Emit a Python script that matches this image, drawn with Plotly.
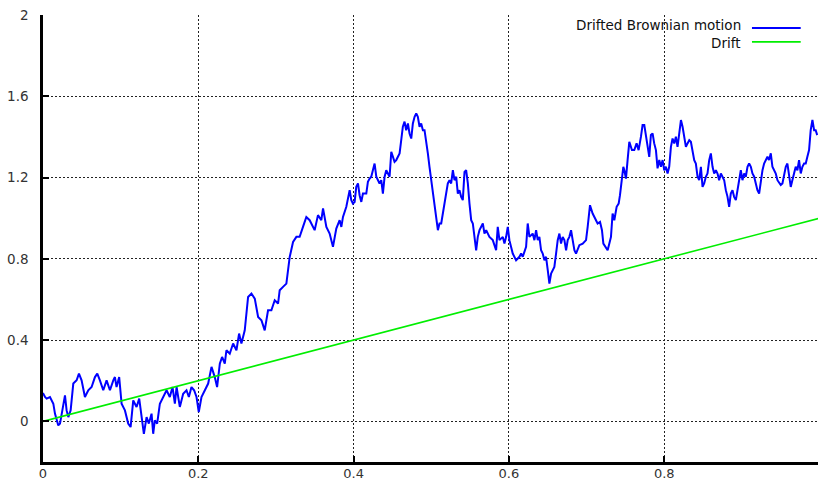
import plotly.graph_objects as go

# Sampled path of a Brownian motion with unit drift on [0, 1]
t_vals = [
    0.0004, 0.0026, 0.0047, 0.009, 0.0133, 0.0154, 0.0197, 0.0219, 0.0262, 0.0283,
    0.0304, 0.0326, 0.0356, 0.039, 0.0433, 0.0463, 0.0497, 0.054, 0.0583, 0.0626,
    0.0669, 0.0699, 0.0733, 0.0776, 0.0819, 0.0862, 0.0905, 0.0926, 0.0947, 0.0981,
    0.1012, 0.1055, 0.1097, 0.1128, 0.1162, 0.1205, 0.1239, 0.1269, 0.1299, 0.1334,
    0.1363, 0.1398, 0.1419, 0.144, 0.147, 0.1505, 0.1548, 0.1591, 0.1633, 0.1668,
    0.1698, 0.172, 0.1762, 0.1805, 0.1848, 0.1878, 0.1912, 0.1946, 0.1977, 0.2006,
    0.2041, 0.2084, 0.2127, 0.217, 0.2212, 0.2242, 0.2277, 0.2306, 0.2341, 0.2362,
    0.2405, 0.2448, 0.2491, 0.2525, 0.2555, 0.2598, 0.2641, 0.2684, 0.2727, 0.277,
    0.2813, 0.2855, 0.2898, 0.2941, 0.2984, 0.3027, 0.3048, 0.3091, 0.3134, 0.3177,
    0.322, 0.3263,
    0.3305, 0.3348, 0.3391, 0.3434, 0.3477, 0.3498, 0.3541, 0.3584, 0.3606, 0.3649,
    0.3691, 0.3713, 0.3734, 0.3777, 0.382, 0.3842, 0.3863, 0.3906, 0.3927, 0.3949,
    0.397, 0.3991, 0.4013, 0.4034, 0.4056, 0.4077, 0.4099, 0.412, 0.4163, 0.4184,
    0.4206, 0.4227, 0.427, 0.4292, 0.4334, 0.4356, 0.4377, 0.4399, 0.442, 0.4442,
    0.4463, 0.4485, 0.4506, 0.4527, 0.4549, 0.4592, 0.4613, 0.4634, 0.4656, 0.4677,
    0.4699, 0.472, 0.4742, 0.4763, 0.4785, 0.4806, 0.4827, 0.4849, 0.487, 0.4892,
    0.4913, 0.4935, 0.4956, 0.4977, 0.4999, 0.502, 0.5042, 0.5063, 0.5085, 0.5106,
    0.5128, 0.5149, 0.517, 0.5192, 0.5213, 0.5235, 0.5256, 0.5278, 0.5299, 0.5321,
    0.5342, 0.5363, 0.5385, 0.5406, 0.5428, 0.5449, 0.5471, 0.5492, 0.5514, 0.5535,
    0.5556, 0.5578, 0.5599, 0.5621, 0.5664, 0.5685, 0.5707, 0.5749, 0.5792, 0.5835,
    0.5856, 0.5878, 0.5921, 0.5942, 0.5964, 0.5985, 0.6006, 0.6049, 0.6092, 0.6135,
    0.6157, 0.6178, 0.6221, 0.6242, 0.6264, 0.6306, 0.6328, 0.635, 0.6371, 0.6392,
    0.6414, 0.6435, 0.6457, 0.6478, 0.65, 0.6521, 0.6543, 0.6585, 0.6607, 0.6628,
    0.665, 0.6671, 0.6692, 0.6714, 0.6736, 0.6757, 0.6778, 0.68, 0.6821, 0.6843,
    0.6864,
    0.6907, 0.695, 0.6993, 0.7014, 0.7044, 0.7078, 0.71, 0.7142, 0.7173, 0.7198,
    0.7216, 0.7241, 0.7271, 0.7293, 0.7314, 0.7335, 0.7357, 0.7387, 0.7413, 0.743,
    0.7456, 0.7473, 0.7486, 0.7507, 0.7528, 0.755, 0.7584, 0.7614, 0.7644, 0.767,
    0.77, 0.7721, 0.7743, 0.7764, 0.7785, 0.7807, 0.7828, 0.785, 0.7871, 0.7893,
    0.7914, 0.7936, 0.7957, 0.7979, 0.8, 0.8021, 0.8043, 0.8064, 0.8086, 0.8107,
    0.8129, 0.815, 0.8171, 0.8193, 0.8215, 0.8236, 0.8257, 0.8279, 0.83, 0.8322,
    0.8343, 0.8365, 0.8386, 0.8407, 0.8429, 0.845, 0.8472, 0.8493, 0.8514, 0.8536,
    0.8557, 0.8579, 0.86, 0.8622, 0.8643, 0.8665, 0.8686, 0.8707, 0.8729, 0.875,
    0.8772, 0.8793, 0.8815, 0.8836, 0.8857, 0.8879, 0.89, 0.8922, 0.8943, 0.8965,
    0.8986, 0.9007, 0.9029, 0.905, 0.9072, 0.9093, 0.9115, 0.9136, 0.9158, 0.9179,
    0.92, 0.9222, 0.9243, 0.9265, 0.9286, 0.9308, 0.9329, 0.935, 0.9372, 0.9393,
    0.9415, 0.9436, 0.9458, 0.9479, 0.95, 0.9522, 0.9543, 0.9565, 0.9586, 0.9608,
    0.9629, 0.965, 0.9672, 0.9693, 0.9715, 0.9736, 0.9758, 0.9779, 0.9801, 0.9822,
    0.9843, 0.9865, 0.9886, 0.9908, 0.993, 0.995, 0.997,
]

w_vals = [
    0.136, 0.120, 0.112, 0.120, 0.087, 0.038, -0.020, -0.011, 0.071, 0.128,
    0.054, 0.021, 0.054, 0.186, 0.202, 0.235, 0.202, 0.120, 0.153, 0.169,
    0.218, 0.235, 0.202, 0.153, 0.202, 0.153, 0.202, 0.218, 0.169, 0.218,
    0.087, 0.054, -0.011, -0.028, 0.103, 0.071, 0.112, 0.021, -0.061, 0.021,
    -0.011, 0.038, -0.061, 0.005, -0.011, 0.087, 0.120, 0.153, 0.120, 0.169,
    0.087, 0.169, 0.071, 0.136, 0.153, 0.120, 0.169, 0.153, 0.120, 0.046,
    0.120, 0.153, 0.186, 0.268, 0.218, 0.169, 0.284, 0.317, 0.284, 0.350,
    0.333, 0.383, 0.350, 0.432, 0.383, 0.448, 0.612, 0.629, 0.604, 0.514,
    0.498, 0.448, 0.547, 0.547, 0.596, 0.580, 0.645, 0.662, 0.678, 0.809,
    0.883, 0.908,
    0.908, 0.957, 1.006, 0.990, 0.957, 0.941, 1.015, 0.990, 1.048, 0.957,
    0.924, 0.892, 0.859, 0.949, 0.990, 0.957, 1.006, 1.056, 1.105, 1.138,
    1.089, 1.072, 1.080, 1.154, 1.171, 1.113, 1.080, 1.121, 1.121, 1.179,
    1.195, 1.204, 1.269, 1.204, 1.171, 1.187, 1.121, 1.204, 1.236, 1.220,
    1.204, 1.327, 1.302, 1.277, 1.286, 1.319, 1.384, 1.450, 1.475, 1.433,
    1.466, 1.417, 1.392, 1.466, 1.499, 1.516, 1.499, 1.450, 1.466, 1.433,
    1.433, 1.384, 1.319, 1.253, 1.187, 1.138, 1.072, 0.990, 0.941, 0.974,
    0.974, 1.023, 1.072, 1.105, 1.171, 1.187, 1.171, 1.236, 1.187, 1.204,
    1.121, 1.138, 1.105, 1.089, 1.228, 1.236, 1.171, 1.072, 0.990, 0.974,
    0.908, 0.842, 0.908, 0.941, 0.974, 0.924, 0.941, 0.908, 0.892, 0.842,
    0.957, 0.892, 0.908, 0.875, 0.908, 0.957, 0.892, 0.826, 0.793, 0.810,
    0.826, 0.810, 0.859, 0.974, 0.908, 0.924, 0.892, 0.941, 0.892, 0.908,
    0.842, 0.826, 0.793, 0.810, 0.744, 0.678, 0.727, 0.760, 0.826, 0.892,
    0.924, 0.875, 0.908, 0.892, 0.842, 0.892, 0.908, 0.941, 0.892, 0.842,
    0.826,
    0.867, 0.875, 0.892, 0.957, 1.064, 1.023, 1.006, 0.974, 0.982, 0.941,
    0.875, 0.859, 0.842, 0.875, 0.908, 1.023, 0.990, 1.056, 1.072, 1.113,
    1.204, 1.253, 1.236, 1.195, 1.286, 1.376, 1.335, 1.335, 1.368, 1.335,
    1.401, 1.458, 1.458, 1.401, 1.368, 1.302, 1.409, 1.417, 1.368, 1.335,
    1.245, 1.286, 1.253, 1.286, 1.236, 1.253, 1.220, 1.253, 1.351, 1.392,
    1.368, 1.401, 1.351, 1.433, 1.483, 1.450, 1.409, 1.351, 1.368, 1.384,
    1.376, 1.335, 1.286, 1.269, 1.204, 1.187, 1.253, 1.154, 1.171, 1.204,
    1.220, 1.286, 1.319, 1.253, 1.220, 1.236, 1.220, 1.187, 1.220, 1.204,
    1.187, 1.138, 1.105, 1.056, 1.121, 1.138, 1.105, 1.089, 1.138, 1.171,
    1.236, 1.187, 1.220, 1.204, 1.253, 1.269, 1.253, 1.220, 1.204, 1.171,
    1.138, 1.121, 1.187, 1.236, 1.269, 1.286, 1.302, 1.286, 1.319, 1.253,
    1.236, 1.220, 1.187, 1.171, 1.163, 1.171, 1.204, 1.253, 1.269, 1.204,
    1.154, 1.187, 1.220, 1.253, 1.236, 1.286, 1.220, 1.253, 1.269, 1.269,
    1.302, 1.335, 1.433, 1.483, 1.433, 1.433, 1.409,
]

# Deterministic drift component: mu * t with mu = 1
drift_t = [0.0, 1.0]
drift_v = [0.0, 1.0]

x_ticks = [0, 0.2, 0.4, 0.6, 0.8]
x_labels = ["0", "0.2", "0.4", "0.6", "0.8"]
y_ticks = [0, 0.4, 0.8, 1.2, 1.6, 2.0]
y_labels = ["0", "0.4", "0.8", "1.2", "1.6", "2"]

series_names = ["Drifted Brownian motion", "Drift"]
series_colors = ["#0000ff", "#00ee00"]

FONT = "DejaVu Sans, Liberation Sans, sans-serif"

fig = go.Figure()
fig.add_trace(go.Scatter(
    x=[0.0] + t_vals, y=[0.136] + w_vals, mode="lines",
    line=dict(color=series_colors[0], width=2),
    name=series_names[0], showlegend=False,
))
fig.add_trace(go.Scatter(
    x=drift_t, y=drift_v, mode="lines",
    line=dict(color=series_colors[1], width=1.6),
    name=series_names[1], showlegend=False,
))

axis_common = dict(
    showgrid=True, gridcolor="#222222", gridwidth=1, griddash="2px,2px",
    zeroline=False, showline=True, linecolor="black", linewidth=2.5,
    ticks="inside", ticklen=6, tickwidth=2, tickcolor="black",
    mirror=False, automargin=False,
)

fig.update_xaxes(range=[0, 0.998], tickvals=x_ticks, ticktext=x_labels,
                 tickfont=dict(family=FONT, size=13, color="#333333"),
                 ticklabelstandoff=-2, **axis_common)
fig.update_yaxes(range=[-0.2, 2.0], tickvals=y_ticks, ticktext=y_labels,
                 tickfont=dict(family=FONT, size=13.5, color="#333333"),
                 ticklabelstandoff=9, **axis_common)

# Key in the top-right corner: label on the left, line sample on the right
key_line_y = [0.9709, 0.9400]
key_text = [(0.9575, "bottom"), (0.9575, "top")]
for name, color, ly, (ty, anchor) in zip(series_names, series_colors, key_line_y, key_text):
    fig.add_annotation(
        xref="paper", yref="paper", x=0.902, y=ty, xanchor="right", yanchor=anchor,
        text=name, showarrow=False, borderpad=0,
        font=dict(family=FONT, size=13.5, color="#111111"),
    )
    fig.add_shape(
        type="line", xref="paper", yref="paper", x0=0.9148, x1=0.9777, y0=ly, y1=ly,
        line=dict(color=color, width=1.8),
    )

fig.update_layout(
    width=818, height=480,
    margin=dict(l=43, r=0, t=15, b=18),
    paper_bgcolor="white", plot_bgcolor="white",
    showlegend=False,
)

fig.write_html("out.html")
